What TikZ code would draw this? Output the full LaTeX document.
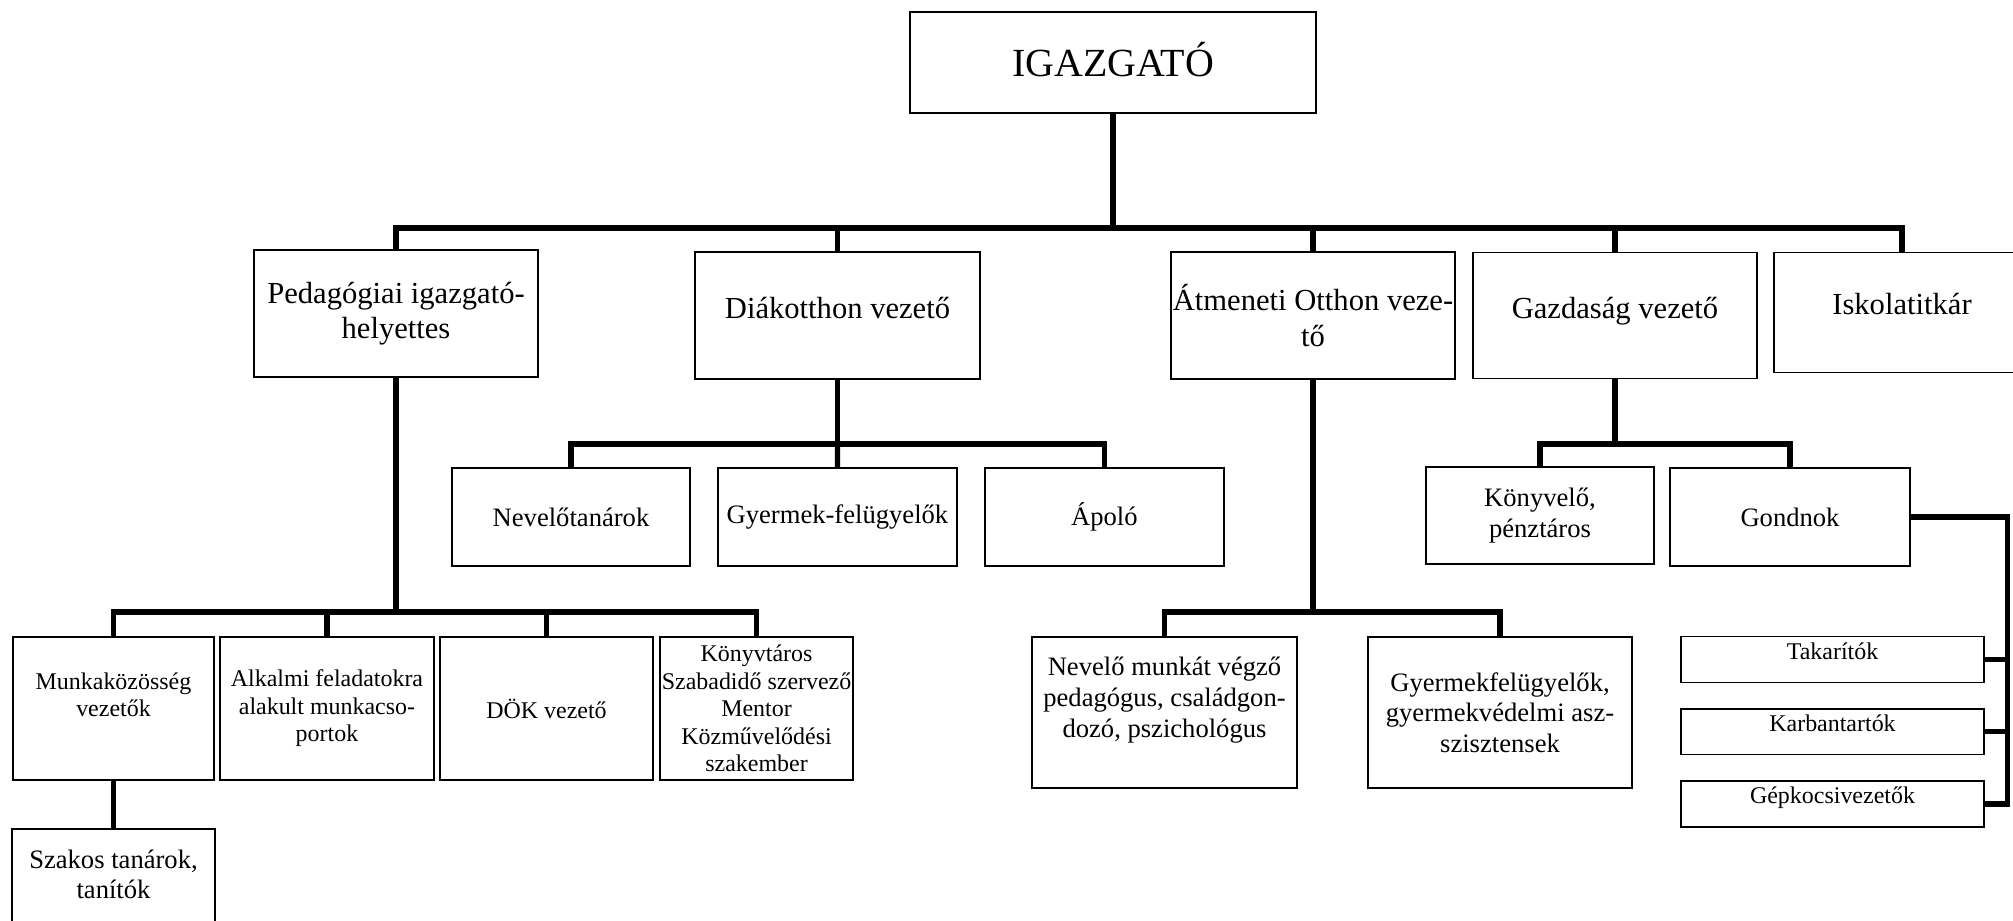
\documentclass[tikz,border=0pt]{standalone}
\usepackage{fontspec}
\setmainfont{Liberation Serif}
\usepackage{tikz}
\usetikzlibrary{positioning}

\newcommand\lift[2]{\raisebox{#1}{\smash{#2}}\strut}
\newcommand\pxu{0.451pt}

\begin{document}
\begin{tikzpicture}[%
    x=0.451pt, y=-0.451pt,
    orgnode/.style={rectangle, align=center, draw=black, line width=0.6pt, inner xsep=0.5pt, inner ysep=1pt, outer sep=0pt},
    topnode/.style={orgnode, font=\fontsize{18}{20.7}\selectfont},
    mainnode/.style={orgnode, font=\fontsize{13.8}{15.9}\selectfont, minimum width=284*\pxu, minimum height=127*\pxu},
    subnode/.style={orgnode, font=\fontsize{12}{13.8}\selectfont},
    smallnode/.style={orgnode, font=\fontsize{10.8}{12.4}\selectfont},
    conn/.style={draw=black, line width=2.4pt}
]
\useasboundingbox[fill=white] (0,0) rectangle (2013,921);

% top node
\node[topnode, minimum width=406*\pxu, minimum height=101*\pxu]      (igazgato) at (1113,62.5) {\lift{-2.3pt}{IGAZGATÓ}};

% first row
\node[mainnode]     (pedhelyettes) at (396,313.5) {Pedagógiai igazgató-\\helyettes};
\node[mainnode, minimum width=285*\pxu]     (diakotthon) at (837.5,315.5) {\lift{1.8pt}{Diákotthon vezető}};
\node[mainnode]     (atmeneti) at (1313,315.5) {Átmeneti Otthon veze-\\tő};
\node[mainnode, minimum height=126*\pxu]     (gazdasag) at (1615,315.3) {\lift{1.7pt}{Gazdaság vezető}};
\node[mainnode, minimum width=256*\pxu, minimum height=120*\pxu]     (iskolatitkar) at (1902,312.3) {\lift{2.4pt}{Iskolatitkár}};

% diakotthon nodes
\node[subnode, minimum width=238*\pxu, minimum height=98*\pxu]       (nevelotanarok) at (571,517) {Nevelőtanárok};
\node[subnode, minimum width=239*\pxu, minimum height=98*\pxu]       (felugyelok) [right=12.6pt of nevelotanarok] {Gyermek-felügyelők};
\node[subnode, minimum width=239*\pxu, minimum height=98*\pxu]       (apolo) [right=12.6pt of felugyelok] {Ápoló};

% gazdasag nodes
\node[subnode, minimum width=228*\pxu, minimum height=97*\pxu]       (konyvelo) at (1540,515.5) {Könyvelő,\\pénztáros};
\node[subnode, minimum width=240*\pxu, minimum height=98*\pxu]       (gondnok) at (1790,517) {Gondnok};

% pedagogiai nodes
\node[smallnode, minimum width=201*\pxu, minimum height=143*\pxu]    (munkakozosseg) at (113.5,708.5) {Munkaközösség\\vezetők\\~};
\node[smallnode, minimum width=214*\pxu, minimum height=143*\pxu]    (alkalmi) [right=2.7pt of munkakozosseg] {Alkalmi feladatokra\\alakult munkacso-\\portok};
\node[smallnode, minimum width=213*\pxu, minimum height=143*\pxu]    (dok) [right=2.7pt of alkalmi] {DÖK vezető};
\node[smallnode, minimum width=193*\pxu, minimum height=143*\pxu]    (konyvtaros) [right=3.2pt of dok] {Könyvtáros\\Szabadidő szervező\\Mentor\\Közművelődési\\szakember};
\node[subnode, minimum width=203*\pxu, minimum height=121*\pxu]      (szakos) [below=22.1pt of munkakozosseg] {Szakos tanárok,\\tanítók\\~};

% atmeneti nodes
\node[subnode, minimum width=265*\pxu, minimum height=151*\pxu]      (nevelomunka) at (1164.5,712.5) {Nevelő munkát végző\\pedagógus, családgon-\\dozó, pszichológus\\~};
\node[subnode, minimum width=264*\pxu, minimum height=151*\pxu]      (gyermekfelugyelok) at (1500,712.5) {Gyermekfelügyelők,\\gyermekvédelmi asz-\\szisztensek};

% gondnok nodes
\node[smallnode, minimum width=303*\pxu, minimum height=46*\pxu]     (takaritok) at (1832.5,659.3) {\lift{2.6pt}{Takarítók}};
\node[smallnode, minimum width=303*\pxu, minimum height=45.5*\pxu]   (karbantartok) [below=12pt of takaritok] {\lift{2.4pt}{Karbantartók}};
\node[smallnode, minimum width=303*\pxu, minimum height=46*\pxu]     (gepkocsivezetok) [below=12pt of karbantartok] {\lift{2.6pt}{Gépkocsivezetők}};

% bus points
\coordinate (topbus) at (1113,228);
\coordinate (diakbus) at (837.5,444);
\coordinate (gazdbus) at (1615,444);
\coordinate (pedbus) at (396,612);
\coordinate (atmbus) at (1313,612);
\coordinate (gondbus) at (2007.5,517);

% top lines
\draw[conn] (igazgato.south) -- (topbus);
\draw[conn] (topbus) -| (pedhelyettes.north);
\draw[conn] (topbus) -| (diakotthon.north);
\draw[conn] (topbus) -| (atmeneti.north);
\draw[conn] (topbus) -| (gazdasag.north);
\draw[conn] (topbus) -| (iskolatitkar.north);

% diakotthon lines
\draw[conn] (diakotthon.south) -- (diakbus);
\draw[conn] (diakbus) -| (nevelotanarok.north);
\draw[conn] (diakbus) -- (felugyelok.north);
\draw[conn] (diakbus) -| (apolo.north);

% gazdasag lines
\draw[conn] (gazdasag.south) -- (gazdbus);
\draw[conn] (gazdbus) -| (konyvelo.north);
\draw[conn] (gazdbus) -| (gondnok.north);

% pedagogiai lines
\draw[conn] (pedhelyettes.south) -- (pedbus);
\draw[conn] (pedbus) -| (munkakozosseg.north);
\draw[conn] (pedbus) -| (alkalmi.north);
\draw[conn] (pedbus) -| (dok.north);
\draw[conn] (pedbus) -| (konyvtaros.north);
\draw[conn] (munkakozosseg.south) -- (szakos.north);

% atmeneti lines
\draw[conn] (atmeneti.south) -- (atmbus);
\draw[conn] (atmbus) -| (nevelomunka.north);
\draw[conn] (atmbus) -| (gyermekfelugyelok.north);

% gondnok lines
\draw[conn] (gondnok.east) -- (gondbus) |- (gepkocsivezetok.east);
\draw[conn] (takaritok.east) -- (takaritok.east -| gondbus);
\draw[conn] (karbantartok.east) -- (karbantartok.east -| gondbus);

\end{tikzpicture}
\end{document}
